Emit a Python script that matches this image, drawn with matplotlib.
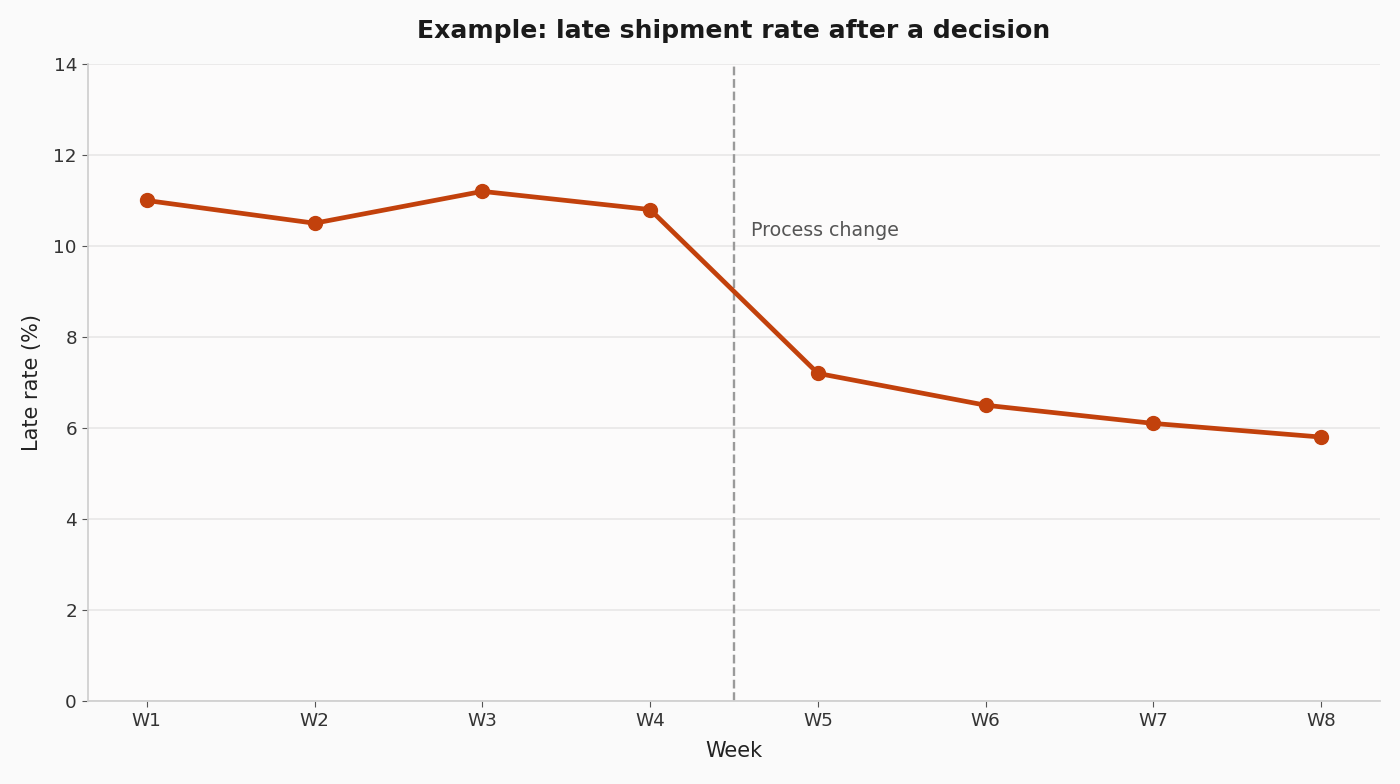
import matplotlib
matplotlib.use("Agg")
import matplotlib.pyplot as plt

plt.rcParams["font.family"] = ["DejaVu Sans"]

# Weekly late shipment rate
weeks = ["W1", "W2", "W3", "W4", "W5", "W6", "W7", "W8"]
late_rate = [11.0, 10.5, 11.2, 10.8, 7.2, 6.5, 6.1, 5.8]
change_label = "Process change"

fig = plt.figure(figsize=(14, 7.84), dpi=100, facecolor="#fafafa")
ax = fig.add_axes([0.0629, 0.1059, 0.9228, 0.8125])
ax.set_facecolor("#fcfbfb")

x = list(range(len(weeks)))
ax.plot(x, late_rate, color="#c2410c", linewidth=3.4, marker="o", markersize=10, zorder=3)

# decision marker between W4 and W5
ax.axvline(3.5, color="#9a9a9a", linestyle="--", linewidth=1.7, zorder=2)
ax.text(3.6, 10.35, change_label, fontsize=13.7, color="#555555", va="center", ha="left")

ax.set_ylim(0, 14)
ax.set_xticks(x)
ax.set_xticklabels(weeks)
ax.grid(axis="y", color="#e6e6e6", linewidth=1.1)
ax.set_axisbelow(True)

for s in ["top", "right"]:
    ax.spines[s].set_visible(False)
for s in ["left", "bottom"]:
    ax.spines[s].set_color("#d0d0d0")
    ax.spines[s].set_linewidth(1.3)
ax.tick_params(colors="#555555", labelcolor="#333333", labelsize=13.2, length=4.5)

ax.set_xlabel("Week", fontsize=15, color="#222222", labelpad=8)
ax.set_ylabel("Late rate (%)", fontsize=15, color="#222222", labelpad=8)
ax.set_title("Example: late shipment rate after a decision", fontsize=18.1,
             fontweight="bold", color="#1a1a1a", pad=19)

fig.savefig("out.png", dpi=100, facecolor=fig.get_facecolor())
